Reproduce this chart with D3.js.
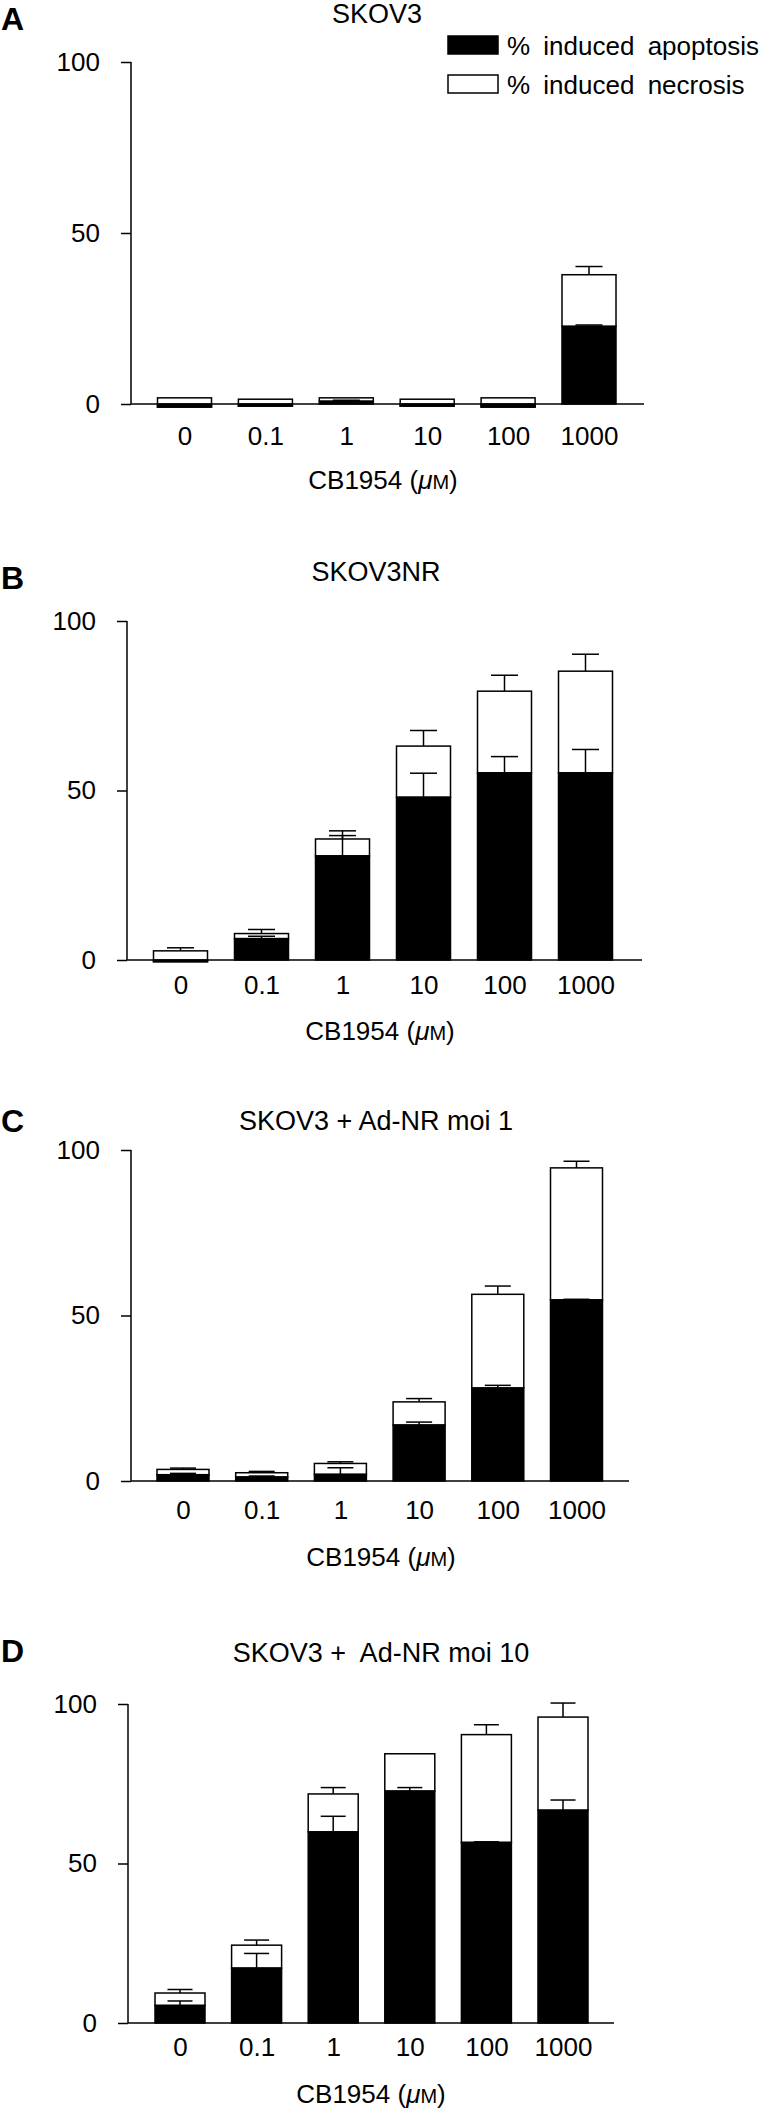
<!DOCTYPE html>
<html>
<head>
<meta charset="utf-8">
<script src="https://cdnjs.cloudflare.com/ajax/libs/d3/7.8.5/d3.min.js"></script>
<style>
body { margin: 0; background: #fff; }
svg { display: block; font-family: "Liberation Sans", Arial, Helvetica, sans-serif; }
</style>
</head>
<body>
<div id="chart"></div>
<script>
var doses = ["0", "0.1", "1", "10", "100", "1000"];
var yTicks = [0, 50, 100];
var seriesNames = ["% induced apoptosis", "% induced necrosis"];
var panelLetters = ["A", "B", "C", "D"];
var panelTitles = ["SKOV3", "SKOV3NR", "SKOV3 + Ad-NR moi 1", "SKOV3 +\u00a0 Ad-NR moi 10"];

// apoptosis (black) and necrosis (white, stacked on top), with upper error bars
var apoA = [-0.9, -0.6, 0.8, -0.6, -0.9, 22.7];
var apoErrA = [0, 0, 0.3, 0, 0, 0.4];
var necA = [2.7, 2.0, 1.0, 2.0, 2.7, 15.1];
var necErrA = [0, 0, 0, 0, 0, 2.4];

var apoB = [-0.5, 6.3, 30.7, 48.0, 55.2, 55.2];
var apoErrB = [0, 0.7, 6.0, 7.1, 4.8, 6.9];
var necB = [3.2, 1.5, 5.0, 15.1, 24.1, 30.0];
var necErrB = [0.9, 1.2, 2.4, 4.6, 4.7, 5.0];

var apoC = [1.9, 1.2, 2.0, 16.9, 28.1, 54.7];
var apoErrC = [0.4, 0.3, 2.0, 0.9, 0.8, 0.2];
var necC = [1.6, 1.3, 3.3, 7.0, 28.3, 39.9];
var necErrC = [0.4, 0.4, 0.5, 1.0, 2.5, 2.0];

var apoD = [5.5, 17.2, 59.9, 72.7, 56.6, 66.7];
var apoErrD = [1.4, 4.6, 4.9, 1.1, 0.2, 3.2];
var necD = [3.9, 7.2, 11.9, 11.7, 33.8, 29.2];
var necErrD = [1.1, 1.6, 2.0, 0, 3.1, 4.4];

var panelData = [
    { apo: apoA, apoErr: apoErrA, nec: necA, necErr: necErrA },
    { apo: apoB, apoErr: apoErrB, nec: necB, necErr: necErrB },
    { apo: apoC, apoErr: apoErrC, nec: necC, necErr: necErrC },
    { apo: apoD, apoErr: apoErrD, nec: necD, necErr: necErrD }
];

// where each panel sits on the page
var layouts = [
    { axisX: 131, yTop: 62, yBottom: 404, x0: 184.5, step: 80.9, barW: 54, axisEnd: 644,
      letterY: 30, titleX: 377, titleY: 23, tickY: 446, xTitleX: 383, xTitleY: 489 },
    { axisX: 127, yTop: 621, yBottom: 960, x0: 180.5, step: 81.0, barW: 54, axisEnd: 642,
      letterY: 589, titleX: 376, titleY: 581, tickY: 995, xTitleX: 380, xTitleY: 1040 },
    { axisX: 131, yTop: 1150, yBottom: 1481, x0: 183, step: 78.7, barW: 52, axisEnd: 629,
      letterY: 1132, titleX: 376, titleY: 1130, tickY: 1520, xTitleX: 381, xTitleY: 1566 },
    { axisX: 128, yTop: 1704, yBottom: 2023, x0: 180, step: 76.6, barW: 50, axisEnd: 614,
      letterY: 1662, titleX: 381, titleY: 1662, tickY: 2057, xTitleX: 371, xTitleY: 2103 }
];

var svg = d3.select("#chart").append("svg").attr("width", 765).attr("height", 2115);

function errorBar(g, x, y, rows, base, err, capW) {
    var e = g.selectAll(null).data(rows.filter(function (d) { return err(d) > 0; })).enter().append("g");
    e.append("line")
        .attr("x1", function (d) { return x(d.dose); })
        .attr("x2", function (d) { return x(d.dose); })
        .attr("y1", function (d) { return y(base(d)); })
        .attr("y2", function (d) { return y(base(d) + err(d)); });
    e.append("line")
        .attr("x1", function (d) { return x(d.dose) - capW / 2; })
        .attr("x2", function (d) { return x(d.dose) + capW / 2; })
        .attr("y1", function (d) { return y(base(d) + err(d)); })
        .attr("y2", function (d) { return y(base(d) + err(d)); });
    e.selectAll("line").attr("stroke", "#000").attr("stroke-width", 1.5);
}

function drawPanel(i) {
    var p = panelData[i], L = layouts[i];
    var x = d3.scalePoint().domain(doses).range([L.x0, L.x0 + 5 * L.step]);
    var y = d3.scaleLinear().domain([0, 100]).range([L.yBottom, L.yTop]);
    var g = svg.append("g");

    var rows = doses.map(function (d, k) {
        return { dose: d, apo: p.apo[k], apoErr: p.apoErr[k], nec: p.nec[k], necErr: p.necErr[k] };
    });

    // necrosis, white, stacked on apoptosis
    g.selectAll(null).data(rows).enter().append("rect")
        .attr("x", function (d) { return x(d.dose) - L.barW / 2; })
        .attr("y", function (d) { return y(d.apo + d.nec); })
        .attr("width", L.barW)
        .attr("height", function (d) { return y(d.apo) - y(d.apo + d.nec); })
        .attr("fill", "#fff").attr("stroke", "#000").attr("stroke-width", 1.5);

    // apoptosis, black
    g.selectAll(null).data(rows).enter().append("rect")
        .attr("x", function (d) { return x(d.dose) - L.barW / 2; })
        .attr("y", function (d) { return y(Math.max(0, d.apo)); })
        .attr("width", L.barW)
        .attr("height", function (d) { return Math.abs(y(0) - y(d.apo)); })
        .attr("fill", "#000").attr("stroke", "#000").attr("stroke-width", 1.5);

    errorBar(g, x, y, rows, function (d) { return d.apo + d.nec; }, function (d) { return d.necErr; }, L.barW / 2);
    errorBar(g, x, y, rows, function (d) { return d.apo; }, function (d) { return d.apoErr; }, L.barW / 2);

    // y axis
    var ya = g.append("g").attr("transform", "translate(" + L.axisX + ",0)")
        .call(d3.axisLeft(y).tickValues(yTicks).tickSize(10).tickPadding(21));
    ya.select(".domain").attr("d", "M0," + y(0) + "V" + y(100));

    // x axis (labels only, baseline drawn separately)
    var xa = g.append("g").attr("transform", "translate(0," + y(0) + ")")
        .call(d3.axisBottom(x).tickSize(0).tickPadding(L.tickY - y(0) - 19));
    xa.select(".domain").remove();
    g.append("line").attr("x1", L.axisX).attr("x2", L.axisEnd)
        .attr("y1", y(0)).attr("y2", y(0))
        .attr("stroke", "#000").attr("stroke-width", 1.5);

    g.selectAll(".domain, .tick line").attr("stroke", "#000").attr("stroke-width", 1.5);
    g.selectAll(".tick text").attr("font-size", 26).attr("fill", "#000")
        .attr("font-family", "'Liberation Sans', Arial, sans-serif");

    var xt = g.append("text").attr("x", L.xTitleX).attr("y", L.xTitleY)
        .attr("text-anchor", "middle").attr("font-size", 26);
    xt.append("tspan").text("CB1954 (");
    xt.append("tspan").attr("font-style", "italic").text("\u03bc");
    xt.append("tspan").attr("font-size", 20).text("M");
    xt.append("tspan").text(")");

    g.append("text").attr("x", L.titleX).attr("y", L.titleY)
        .attr("text-anchor", "middle").attr("font-size", 27).text(panelTitles[i]);
    g.append("text").attr("x", 1).attr("y", L.letterY)
        .attr("font-size", 32).attr("font-weight", "bold").text(panelLetters[i]);
}

for (var i = 0; i < panelData.length; i++) drawPanel(i);

// legend (panel A only)
var legend = svg.append("g");
legend.selectAll("rect").data(seriesNames).enter().append("rect")
    .attr("x", 448).attr("y", function (d, i) { return 36 + i * 39; })
    .attr("width", 50).attr("height", 18)
    .attr("fill", function (d, i) { return i === 0 ? "#000" : "#fff"; })
    .attr("stroke", "#000").attr("stroke-width", 1.5);
legend.selectAll("text").data(seriesNames).enter().append("text")
    .attr("x", 507).attr("y", function (d, i) { return 55 + i * 39; })
    .attr("font-size", 26).attr("word-spacing", 6).text(String);
</script>
</body>
</html>
